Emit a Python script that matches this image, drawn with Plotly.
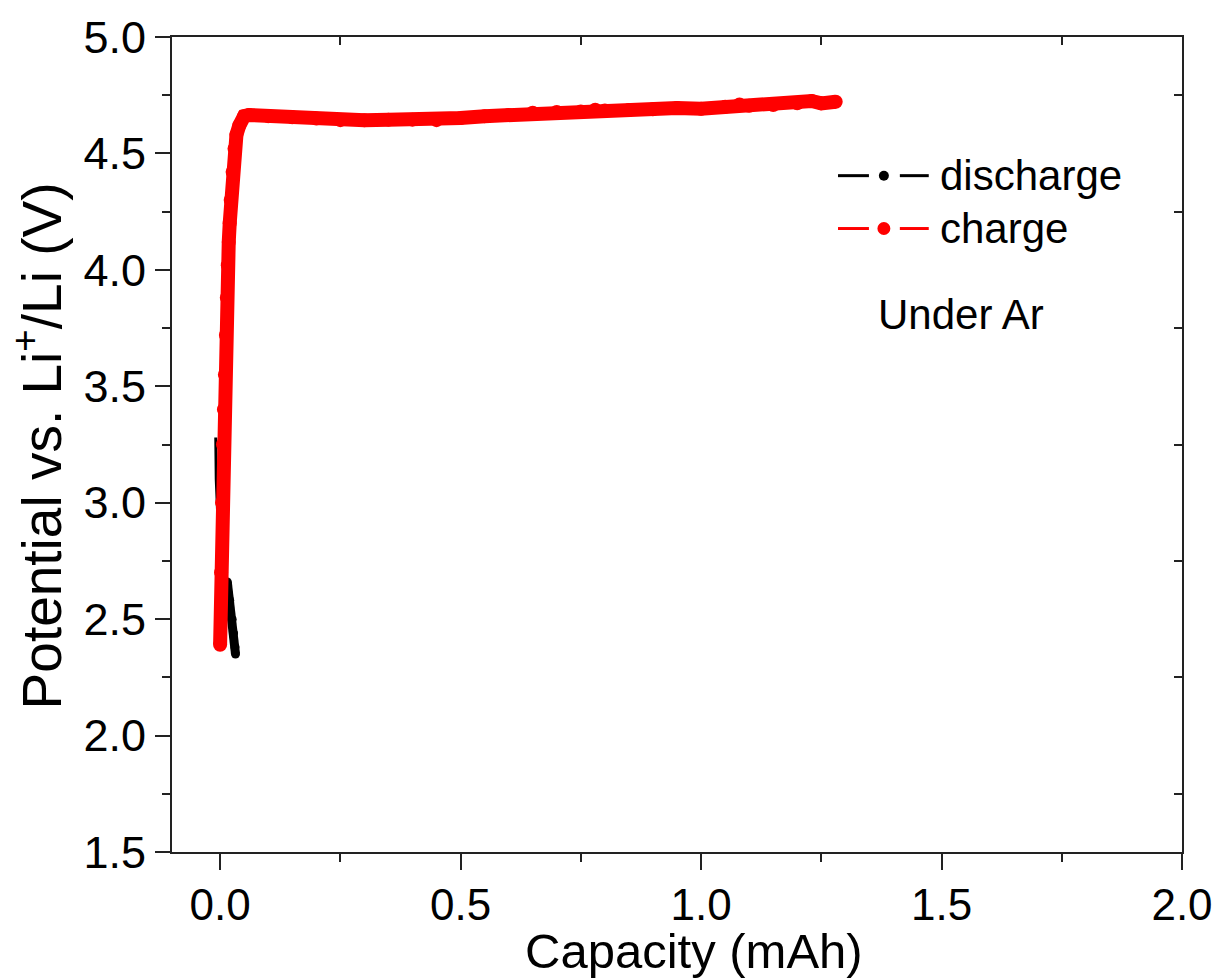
import plotly.graph_objects as go

# ---- data ----
charge_capacity = [0.000, 0.002, 0.004, 0.006, 0.008, 0.010, 0.012, 0.014, 0.016, 0.018,
                   0.020, 0.022, 0.026, 0.030, 0.034, 0.040, 0.050, 0.060, 0.100, 0.150,
                   0.200, 0.250, 0.300, 0.350, 0.400, 0.450, 0.500, 0.550, 0.600, 0.650,
                   0.700, 0.750, 0.780, 0.800, 0.850, 0.900, 0.950, 1.000, 1.050, 1.080,
                   1.100, 1.150, 1.200, 1.230, 1.250, 1.280]
charge_potential = [2.39, 2.70, 3.00, 3.25, 3.40, 3.55, 3.72, 3.88, 4.02, 4.12,
                    4.20, 4.30, 4.42, 4.52, 4.58, 4.62, 4.660, 4.665, 4.660, 4.655,
                    4.650, 4.643, 4.642, 4.645, 4.645, 4.643, 4.652, 4.660, 4.665, 4.675,
                    4.678, 4.680, 4.688, 4.684, 4.686, 4.690, 4.695, 4.692, 4.700, 4.710,
                    4.705, 4.708, 4.715, 4.725, 4.715, 4.722]

discharge_capacity = [-0.009, -0.008, -0.005, 0.002, 0.010, 0.015, 0.020, 0.025, 0.028, 0.031, 0.032]
discharge_potential = [3.28, 3.10, 2.95, 2.80, 2.70, 2.66, 2.58, 2.50, 2.44, 2.38, 2.35]

series_names = ["discharge", "charge"]
x_title = "Capacity (mAh)"
y_title = "Potential vs. Li<sup>+</sup>/Li (V)"
note_text = "Under Ar"
x_range = [-0.1, 2.0]
y_range = [1.5, 5.0]

# ---- styles ----
THICK_FROM = 5  # discharge trace is drawn thin above this index, thick below

FONT = "Liberation Sans, Arial, sans-serif"
W, H = 1225, 978
ML, MR, MT, MB = 172, 40, 35, 126
PW, PH = W - ML - MR, H - MT - MB


def px(xp):
    return (xp - ML) / PW


def py(yp):
    return (H - MB - yp) / PH


fig = go.Figure()

fig.add_trace(go.Scatter(
    x=discharge_capacity[:THICK_FROM + 1], y=discharge_potential[:THICK_FROM + 1],
    mode="lines", line=dict(color="black", width=3),
    name=series_names[0], showlegend=False))
fig.add_trace(go.Scatter(
    x=discharge_capacity[THICK_FROM:], y=discharge_potential[THICK_FROM:],
    mode="lines+markers", line=dict(color="black", width=9),
    marker=dict(color="black", size=9, opacity=1, line=dict(width=0)),
    name=series_names[0], showlegend=False))

fig.add_trace(go.Scatter(
    x=charge_capacity, y=charge_potential, mode="lines+markers",
    line=dict(color="#ff0000", width=14), marker=dict(color="#ff0000", size=14),
    name=series_names[1], showlegend=False))

# empty trace to carry the mirrored (top / right) axes
fig.add_trace(go.Scatter(x=[], y=[], xaxis="x2", yaxis="y2", showlegend=False))

axis_common = dict(showgrid=False, zeroline=False, showline=True, linecolor="#222",
                   linewidth=2, tickcolor="#222", tickwidth=2)

fig.update_layout(
    width=W, height=H,
    margin=dict(l=ML, r=MR, t=MT, b=MB),
    paper_bgcolor="white", plot_bgcolor="white",
    font=dict(family=FONT, color="black"),
    xaxis=dict(range=x_range, dtick=0.5, tick0=0, tickformat=".1f",
               ticks="outside", ticklen=16, ticklabelstandoff=-3,
               minor=dict(dtick=0.25, tick0=0, ticks="outside", ticklen=8,
                          tickwidth=2, tickcolor="#222"),
               tickfont=dict(size=44, family=FONT),
               **axis_common),
    yaxis=dict(range=y_range, dtick=0.5, tick0=0, tickformat=".1f",
               ticks="outside", ticklen=15,
               minor=dict(dtick=0.25, tick0=0, ticks="outside", ticklen=8,
                          tickwidth=2, tickcolor="#222"),
               tickfont=dict(size=45, family=FONT),
               **axis_common),
    xaxis2=dict(range=x_range, overlaying="x", side="top", matches="x",
                showticklabels=False, ticks="", dtick=0.5, tick0=0,
                minor=dict(dtick=0.25, tick0=0, ticks="inside", ticklen=8,
                           tickwidth=2, tickcolor="#222"),
                **axis_common),
    yaxis2=dict(range=y_range, overlaying="y", side="right", matches="y",
                showticklabels=False, ticks="", dtick=0.5, tick0=0,
                minor=dict(dtick=0.25, tick0=0, ticks="inside", ticklen=8,
                           tickwidth=2, tickcolor="#222"),
                **axis_common),
    showlegend=False,
)

# ---- hand-made legend (line - dot - line) ----
legend_rows = [(series_names[0], "black", 174, 10), (series_names[1], "#ff0000", 227, 13)]
shapes = []
annotations = []
for name, color, yrow, dot in legend_rows:
    for x0, x1 in [(840, 871), (902, 931)]:
        shapes.append(dict(type="line", xref="paper", yref="paper",
                           x0=px(x0), x1=px(x1), y0=py(yrow), y1=py(yrow),
                           line=dict(color=color, width=3)))
    shapes.append(dict(type="circle", xref="paper", yref="paper",
                       x0=px(886 - dot / 2), x1=px(886 + dot / 2),
                       y0=py(yrow + dot / 2), y1=py(yrow - dot / 2),
                       fillcolor=color, line=dict(color=color, width=0)))
    annotations.append(dict(text=name, xref="paper", yref="paper",
                            x=px(940), y=py(yrow), xanchor="left", yanchor="middle",
                            showarrow=False, font=dict(size=42, family=FONT, color="black")))

annotations.append(dict(text=note_text, xref="paper", yref="paper",
                        x=px(878), y=py(313), xanchor="left", yanchor="middle",
                        showarrow=False, font=dict(size=42, family=FONT, color="black")))

# axis titles
annotations.append(dict(text=x_title, xref="paper", yref="paper",
                        x=px(696), y=py(951), xanchor="center", yanchor="middle",
                        borderpad=0,
                        showarrow=False, font=dict(size=49, family=FONT, color="black")))
annotations.append(dict(text=y_title, xref="paper", yref="paper", textangle=-90,
                        x=px(38), y=py(445), xanchor="center", yanchor="middle",
                        showarrow=False, font=dict(size=55, family=FONT, color="black")))

fig.update_layout(shapes=shapes, annotations=annotations)

fig.write_html("out.html")
